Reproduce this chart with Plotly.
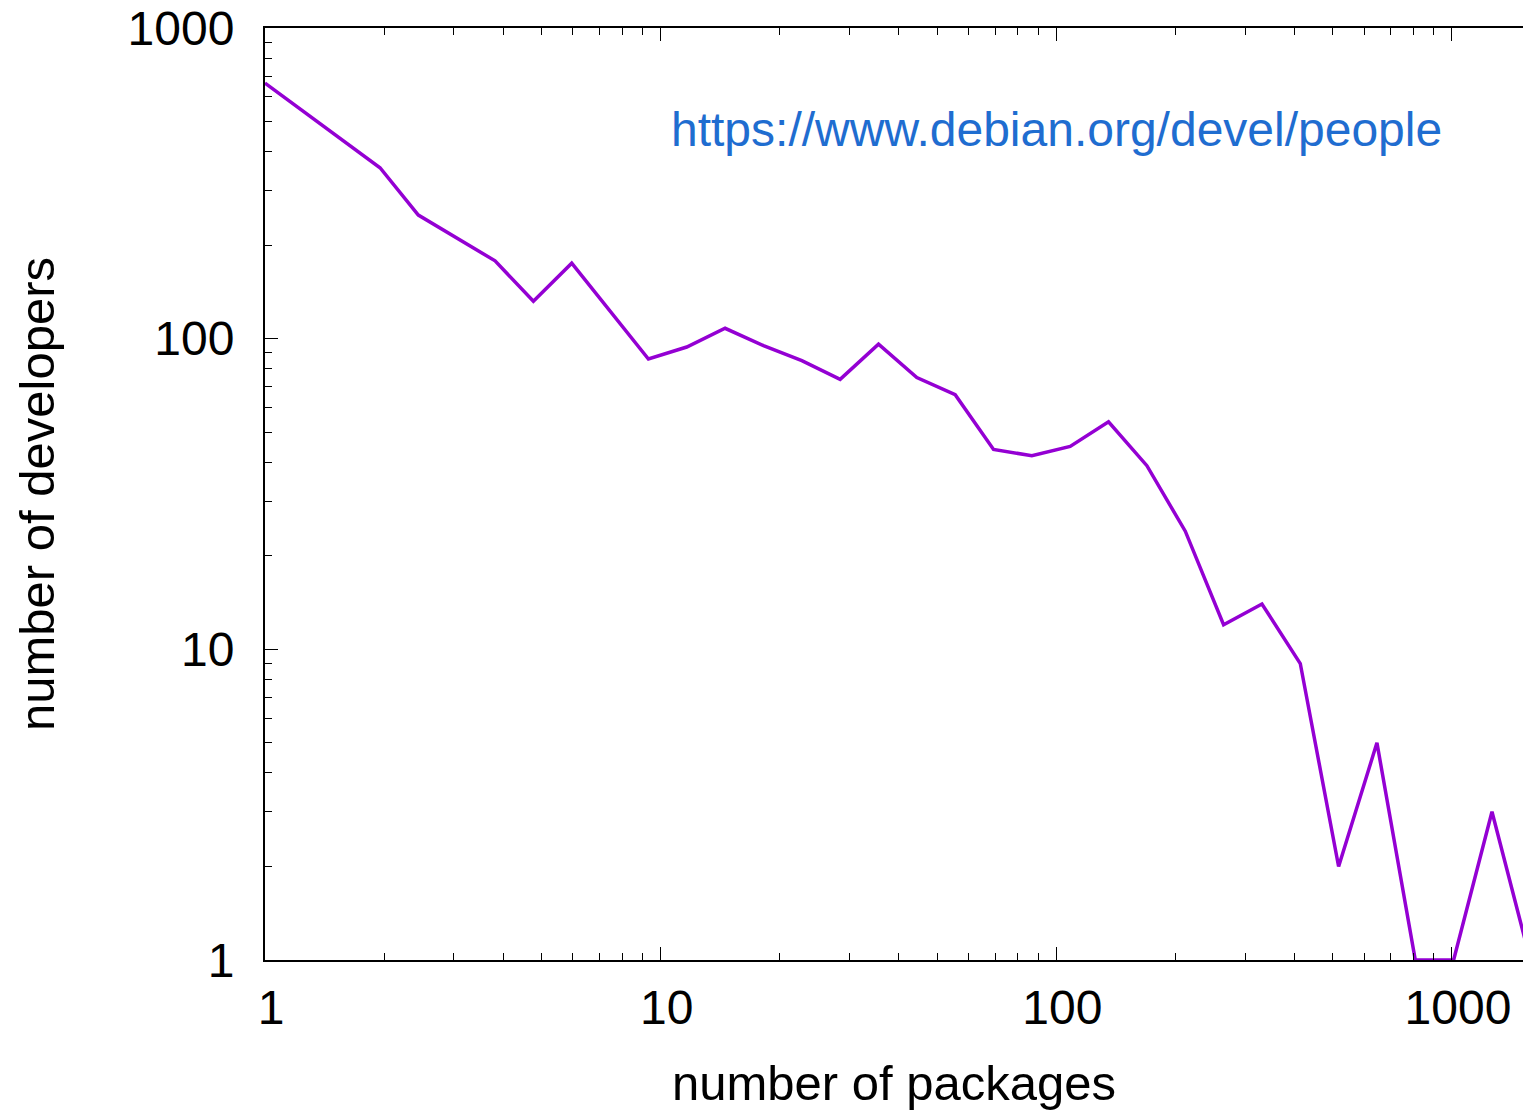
import plotly.graph_objects as go

# number of packages (bin positions, log-spaced by factor 1.25)
packages = [1, 1.953, 2.441, 3.815, 4.768, 5.96, 9.313, 11.64, 14.55, 18.19,
            22.74, 28.42, 35.53, 44.41, 55.51, 69.39, 86.74, 108.4, 135.5, 169.4,
            211.8, 264.7, 330.9, 413.6, 517.0, 646.2, 807.8, 1009.7, 1262.2, 1577.7]
# number of developers in each bin
developers = [665, 355, 250, 178, 132, 175, 86, 94, 108, 95,
              85, 74, 96, 75, 66, 44, 42, 45, 54, 39,
              24, 12, 14, 9, 2, 5, 1, 1, 3, 1]

x_title = "number of packages"
y_title = "number of developers"
source_text = "https://www.debian.org/devel/people"

FONT = "Liberation Sans, Arial, Helvetica, sans-serif"

fig = go.Figure()
fig.add_trace(go.Scatter(
    x=packages, y=developers, mode="lines",
    line=dict(color="#9400d3", width=3.5),
    showlegend=False, hoverinfo="x+y",
))

fig.add_annotation(
    text=source_text, xref="paper", yref="paper",
    x=0.3209, y=0.8906, xanchor="left", yanchor="middle",
    showarrow=False, font=dict(family=FONT, size=48, color="#1f6dd0"),
)

axis_common = dict(
    type="log", showgrid=False, zeroline=False,
    showline=True, linecolor="black", linewidth=2,
    ticks="inside", ticklen=13, tickwidth=1.3, tickcolor="black",
    tickfont=dict(family=FONT, size=48, color="black"),
    dtick=1,
    minor=dict(ticks="inside", ticklen=7, tickwidth=1.3, tickcolor="black",
               dtick="D1", showgrid=False),
)

fig.update_xaxes(
    **axis_common, range=[0, 3.1795], mirror="ticks",
    tickvals=[1, 10, 100, 1000], ticktext=["1", "10", "100", "1000"],
    ticklabelstandoff=4, ticklabelshift=6,
    title=dict(text=x_title, font=dict(family=FONT, size=49, color="black"), standoff=33),
)
fig.update_yaxes(
    **axis_common, range=[0, 3], mirror=False,
    tickvals=[1, 10, 100, 1000], ticktext=["1", "10", "100", "1000"],
    ticklabelstandoff=19,
    title=dict(text=y_title, font=dict(family=FONT, size=49, color="black"), standoff=57),
)

fig.update_layout(
    width=1523, height=1113,
    margin=dict(l=265, r=0, t=28, b=153, autoexpand=False),
    paper_bgcolor="white", plot_bgcolor="white",
    font=dict(family=FONT, color="black"),
)

fig.write_html(
    "out.html",
    config={"displayModeBar": False},
    post_script="document.body.style.margin='0px';document.body.style.overflow='hidden';",
)
